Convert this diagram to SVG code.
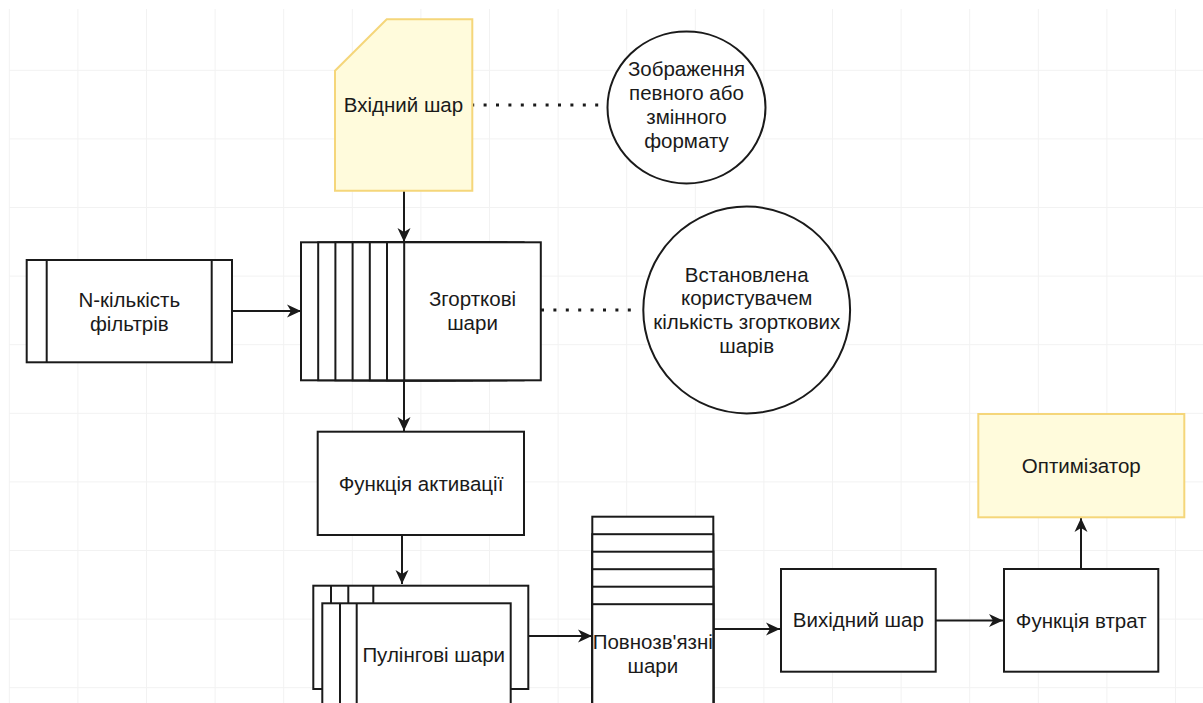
<svg xmlns="http://www.w3.org/2000/svg" width="1203" height="703" viewBox="0 0 1203 703">
<defs>
<style>
.grid{stroke:#f2f2f2;stroke-width:1;fill:none}
.box{fill:#ffffff;stroke:#1a1a1a;stroke-width:2}
.yel{fill:#fffbdc;stroke:#f5d67a;stroke-width:2}
.ln{stroke:#1a1a1a;stroke-width:2;fill:none}
.edge{stroke:#1a1a1a;stroke-width:2;fill:none;marker-end:url(#arr)}
.dot{stroke:#1a1a1a;stroke-width:3;fill:none;stroke-dasharray:3 9.4}
text{font-family:"Liberation Sans",Arial,sans-serif;font-size:20.5px;fill:#1a1a1a;text-anchor:middle}
</style>
<marker id="arr" markerUnits="userSpaceOnUse" markerWidth="16" markerHeight="16" refX="14" refY="8" orient="auto">
<path d="M0,1.5 L14,8 L0,14.5 L4,8 Z" fill="#1a1a1a"/>
</marker>
</defs>
<rect width="1203" height="703" fill="#ffffff"/>
<path class="grid" d="M9.3,9V703M77.9,9V703M146.5,9V703M215.1,9V703M283.7,9V703M352.3,9V703M420.9,9V703M489.5,9V703M558.1,9V703M626.7,9V703M695.3,9V703M763.9,9V703M832.5,9V703M901.1,9V703M969.7,9V703M1038.3,9V703M1106.9,9V703M1175.5,9V703M9,70.3H1203M9,138.9H1203M9,207.5H1203M9,276.1H1203M9,344.7H1203M9,413.3H1203M9,481.9H1203M9,550.5H1203M9,619.1H1203M9,687.7H1203"/>
<g id="connectors">
<path class="dot" d="M471.2,105H600"/>
<path class="dot" d="M541,310H640"/>
<path class="edge" d="M404,191V242"/>
<path class="edge" d="M232,311H301"/>
<path class="edge" d="M404,380V431"/>
<path class="edge" d="M402,535V584"/>
<path class="edge" d="M528,636H592"/>
<path class="edge" d="M713,629H780"/>
<path class="edge" d="M936,620.5H1003"/>
<path class="edge" d="M1081,569V518"/>
</g>
<g id="input">
<path class="yel" d="M335,70.7L386.7,19.3H472.3V190.7H335Z"/>
<text x="403.5" y="111.7">Вхідний шар</text>
</g>
<g id="note-image">
<ellipse class="box" cx="686.5" cy="107.5" rx="79" ry="76"/>
<text x="686.5" y="76">Зображення</text>
<text x="686.5" y="100">певного або</text>
<text x="686.5" y="124">змінного</text>
<text x="686.5" y="148">формату</text>
</g>
<g id="filters">
<rect class="box" x="26.7" y="260" width="205.3" height="102.3"/>
<path class="ln" d="M46.7,260V362.3M211.7,260V362.3"/>
<text x="129.3" y="306.7">N-кількість</text>
<text x="129.3" y="330.7">фільтрів</text>
</g>
<g id="conv">
<rect class="box" x="301" y="242.3" width="136.6" height="138"/>
<rect class="box" x="318.2" y="242.3" width="136.6" height="138"/>
<rect class="box" x="335.4" y="242.3" width="136.6" height="138"/>
<rect class="box" x="352.6" y="242.3" width="136.6" height="138"/>
<rect class="box" x="369.8" y="242.3" width="136.6" height="138"/>
<rect class="box" x="387" y="242.3" width="136.6" height="138"/>
<rect class="box" x="404.2" y="242.3" width="136.6" height="138"/>
<text x="472.5" y="306">Згорткові</text>
<text x="472.5" y="330">шари</text>
</g>
<g id="note-conv">
<circle class="box" cx="746.7" cy="310" r="103.4"/>
<text x="746.7" y="281.7">Встановлена</text>
<text x="746.7" y="305.3">користувачем</text>
<text x="746.7" y="329.3">кількість згорткових</text>
<text x="746.7" y="353.3">шарів</text>
</g>
<g id="activation">
<rect class="box" x="317.7" y="431.7" width="206.3" height="103.3"/>
<text x="421" y="490.7">Функція активації</text>
</g>
<g id="pooling">
<rect class="box" x="313.3" y="585.7" width="215" height="103.3"/>
<path class="ln" d="M331,585.7V603.3M348.3,585.7V603.3M373.3,585.7V603.3"/>
<rect class="box" x="322.3" y="603.3" width="188.4" height="130"/>
<path class="ln" d="M340,603.3V710M356.7,603.3V710"/>
<text x="433.7" y="661.7">Пулінгові шари</text>
</g>
<g id="fc">
<rect class="box" x="592.3" y="516.7" width="121" height="220"/>
<rect class="box" x="592.3" y="534.2" width="121" height="220"/>
<rect class="box" x="592.3" y="551.7" width="121" height="220"/>
<rect class="box" x="592.3" y="569.2" width="121" height="220"/>
<rect class="box" x="592.3" y="586.7" width="121" height="220"/>
<rect class="box" x="592.3" y="604.2" width="121" height="220"/>
<text x="652.8" y="649.3">Повнозв'язні</text>
<text x="652.8" y="673.3">шари</text>
</g>
<g id="output">
<rect class="box" x="781" y="569" width="154.7" height="102.7"/>
<text x="858.3" y="627.3">Вихідний шар</text>
</g>
<g id="loss">
<rect class="box" x="1004" y="569" width="154.3" height="102.7"/>
<text x="1081.2" y="628">Функція втрат</text>
</g>
<g id="optimizer">
<rect class="yel" x="978.3" y="414" width="206" height="103.3"/>
<text x="1081.3" y="472.7">Оптимізатор</text>
</g>
</svg>
